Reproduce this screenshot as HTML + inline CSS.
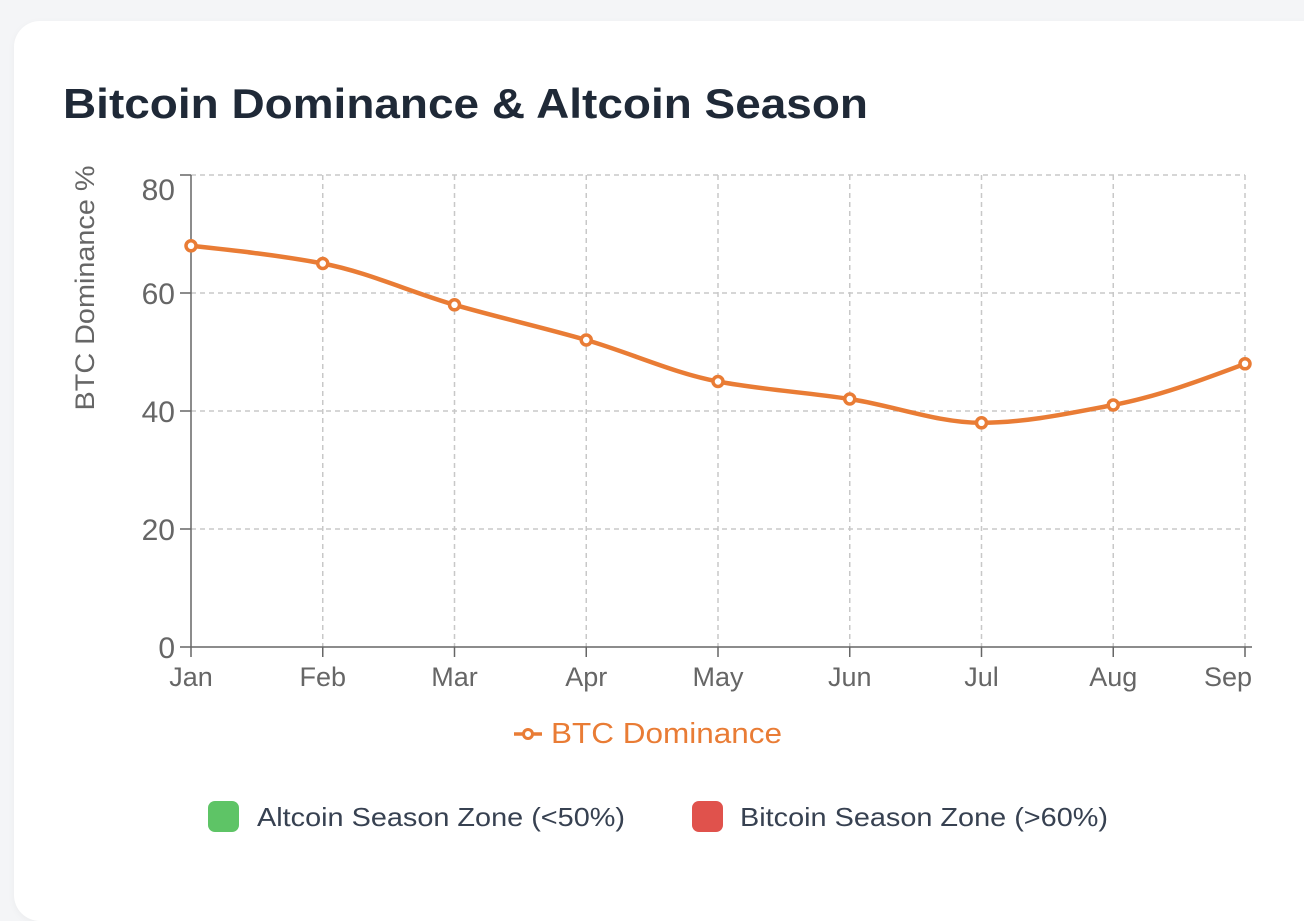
<!DOCTYPE html>
<html><head><style>
body{margin:0;width:1304px;height:879px;background:#f4f5f7;overflow:hidden;font-family:"Liberation Sans",sans-serif;}
.card{position:absolute;left:14px;top:21px;width:1320px;height:900px;background:#fff;border-radius:26px;box-shadow:0 2px 8px rgba(0,0,0,0.04);}
</style></head><body>
<div class="card"></div>
<svg width="1304" height="879" style="position:absolute;left:0;top:0" font-family="Liberation Sans, sans-serif">
<text x="63" y="118" font-size="42" font-weight="bold" fill="#1f2937" textLength="805" lengthAdjust="spacingAndGlyphs">Bitcoin Dominance &amp; Altcoin Season</text>
<g stroke="#c8c8c8" stroke-width="1.5" stroke-dasharray="5,4" fill="none">
<line x1="191" y1="175" x2="1245" y2="175"/><line x1="191" y1="293" x2="1245" y2="293"/>
<line x1="191" y1="411" x2="1245" y2="411"/><line x1="191" y1="529" x2="1245" y2="529"/>
<line x1="322.75" y1="175" x2="322.75" y2="647"/><line x1="454.5" y1="175" x2="454.5" y2="647"/>
<line x1="586.25" y1="175" x2="586.25" y2="647"/><line x1="718" y1="175" x2="718" y2="647"/>
<line x1="849.75" y1="175" x2="849.75" y2="647"/><line x1="981.5" y1="175" x2="981.5" y2="647"/>
<line x1="1113.25" y1="175" x2="1113.25" y2="647"/><line x1="1245" y1="175" x2="1245" y2="647"/>
</g>
<g stroke="#666" stroke-width="1.5">
<line x1="191" y1="175" x2="191" y2="647"/><line x1="191" y1="647" x2="1252" y2="647"/>
<line x1="180" y1="175" x2="191" y2="175"/><line x1="180" y1="293" x2="191" y2="293"/><line x1="180" y1="411" x2="191" y2="411"/><line x1="180" y1="529" x2="191" y2="529"/><line x1="180" y1="647" x2="191" y2="647"/>
<line x1="191" y1="647" x2="191" y2="657"/><line x1="322.75" y1="647" x2="322.75" y2="657"/><line x1="454.5" y1="647" x2="454.5" y2="657"/><line x1="586.25" y1="647" x2="586.25" y2="657"/><line x1="718" y1="647" x2="718" y2="657"/><line x1="849.75" y1="647" x2="849.75" y2="657"/><line x1="981.5" y1="647" x2="981.5" y2="657"/><line x1="1113.25" y1="647" x2="1113.25" y2="657"/><line x1="1245" y1="647" x2="1245" y2="657"/>
</g>
<g fill="#666" font-size="30" text-anchor="end">
<text x="175" y="200">80</text><text x="175" y="304">60</text><text x="175" y="422">40</text><text x="175" y="540">20</text><text x="175" y="658">0</text>
</g>
<g fill="#666" font-size="27" text-anchor="middle">
<text x="191" y="686">Jan</text><text x="322.75" y="686">Feb</text><text x="454.5" y="686">Mar</text><text x="586.25" y="686">Apr</text><text x="718" y="686">May</text><text x="849.75" y="686">Jun</text><text x="981.5" y="686">Jul</text><text x="1113.25" y="686">Aug</text><text x="1228" y="686" text-anchor="middle">Sep</text>
</g>
<text transform="translate(94,288) rotate(-90)" fill="#666" font-size="27" text-anchor="middle" textLength="245" lengthAdjust="spacingAndGlyphs">BTC Dominance %</text>
<path fill="none" stroke="#e97c35" stroke-width="4.5" d="M191,245.8 C234.92,250.53 278.83,255.23 322.75,263.5 C366.67,271.77 410.58,292.13 454.5,304.8 C498.42,317.47 542.33,327.3 586.25,340 C630.17,352.7 674.08,373.3 718,381.5 C761.92,389.7 805.83,392.27 849.75,399 C893.67,405.73 937.58,422.8 981.5,422.8 C1025.42,422.8 1069.33,413.3 1113.25,405 C1157.17,396.7 1201.08,380.27 1245,363.8"/>
<g fill="#fff" stroke="#e97c35" stroke-width="3.5">
<circle cx="191" cy="245.8" r="5"/><circle cx="322.75" cy="263.5" r="5"/><circle cx="454.5" cy="304.8" r="5"/><circle cx="586.25" cy="340" r="5"/><circle cx="718" cy="381.5" r="5"/><circle cx="849.75" cy="399" r="5"/><circle cx="981.5" cy="422.8" r="5"/><circle cx="1113.25" cy="405" r="5"/><circle cx="1245" cy="363.8" r="5"/>
</g>
<line x1="514" y1="734" x2="542" y2="734" stroke="#e97c35" stroke-width="3.5"/>
<circle cx="528" cy="734" r="4.5" fill="#fff" stroke="#e97c35" stroke-width="3"/>
<text x="551" y="743" fill="#e97c35" font-size="29" textLength="231" lengthAdjust="spacingAndGlyphs">BTC Dominance</text>
<rect x="208" y="801" width="31" height="31" rx="7" fill="#5ec466"/>
<text x="257" y="826" fill="#374151" font-size="26" textLength="368" lengthAdjust="spacingAndGlyphs">Altcoin Season Zone (&lt;50%)</text>
<rect x="692" y="801" width="31" height="31" rx="7" fill="#e0524c"/>
<text x="740" y="826" fill="#374151" font-size="26" textLength="368" lengthAdjust="spacingAndGlyphs">Bitcoin Season Zone (&gt;60%)</text>
</svg>
</body></html>
